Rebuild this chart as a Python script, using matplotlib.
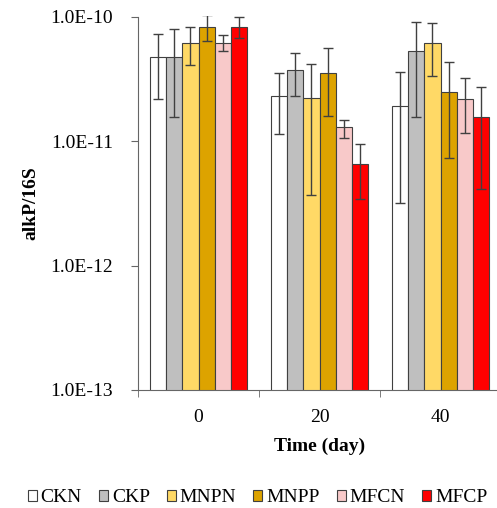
import matplotlib.pyplot as plt
import numpy as np
from matplotlib.patches import Patch
from matplotlib.ticker import FixedLocator, FuncFormatter

# --- Data ---
days = ['0', '20', '40']
groups = ['CKN', 'CKP', 'MNPN', 'MNPP', 'MFCN', 'MFCP']
colors = ['#FFFFFF', '#BFBFBF', '#FFD966', '#DDA300', '#F8C9C9', '#FF0000']

means = {
    'CKN':  [4.75e-11, 2.30e-11, 1.91e-11],
    'CKP':  [4.75e-11, 3.72e-11, 5.28e-11],
    'MNPN': [6.16e-11, 2.23e-11, 6.16e-11],
    'MNPP': [8.30e-11, 3.54e-11, 2.49e-11],
    'MFCN': [6.16e-11, 1.29e-11, 2.17e-11],
    'MFCP': [8.30e-11, 6.50e-12, 1.57e-11],
}
err_hi = {
    'CKN':  [7.30e-11, 3.50e-11, 3.56e-11],
    'CKP':  [7.90e-11, 5.10e-11, 9.10e-11],
    'MNPN': [8.30e-11, 4.13e-11, 8.80e-11],
    'MNPP': [1.03e-10, 5.55e-11, 4.34e-11],
    'MFCN': [7.06e-11, 1.47e-11, 3.19e-11],
    'MFCP': [1.00e-10, 9.46e-12, 2.70e-11],
}
err_lo = {
    'CKN':  [2.19e-11, 1.14e-11, 3.16e-12],
    'CKP':  [1.57e-11, 2.30e-11, 1.55e-11],
    'MNPN': [4.06e-11, 3.68e-12, 3.33e-11],
    'MNPP': [6.30e-11, 1.60e-11, 7.35e-12],
    'MFCN': [5.30e-11, 1.05e-11, 1.17e-11],
    'MFCP': [6.70e-11, 3.40e-12, 4.10e-12],
}

plt.rcParams['font.family'] = ['Liberation Serif', 'DejaVu Serif']

fig = plt.figure(figsize=(4.97, 5.08), dpi=100)
ax = fig.add_axes([138 / 497, 1 - 390 / 508, 363 / 497, (390 - 16.5) / 508])

x = np.arange(len(days))
width = 0.134
edge = '#404040'

for i, g in enumerate(groups):
    pos = x + (i - 2.5) * width
    m = np.array(means[g])
    lo = m - np.array(err_lo[g])
    hi = np.array(err_hi[g]) - m
    ax.bar(pos, m, width, color=colors[i], edgecolor=edge, linewidth=0.8,
           bottom=0, zorder=2)
    ax.errorbar(pos, m, yerr=[lo, hi], fmt='none', ecolor='#404040',
                elinewidth=1.0, capsize=3.5, capthick=1.0, zorder=3)

ax.set_yscale('log')
ax.set_ylim(1e-13, 1e-10)
ax.set_xlim(-0.5, 2.5)

ax.yaxis.set_major_locator(FixedLocator([1e-13, 1e-12, 1e-11, 1e-10]))
ax.yaxis.set_minor_locator(FixedLocator([]))
ax.yaxis.set_major_formatter(FuncFormatter(lambda v, p: '1.0E%d' % round(np.log10(v))))

ax.set_xticks(x)
ax.set_xticklabels(days)
ax.set_xticks([-0.5, 0.5, 1.5, 2.5], minor=True)
ax.tick_params(axis='x', which='major', length=0, pad=14, labelsize=14)
ax.tick_params(axis='x', which='minor', length=5, direction='out', color='#666666')
ax.tick_params(axis='y', which='major', length=5, direction='out', color='#666666', labelsize=14, pad=13)

for s in ['top', 'right']:
    ax.spines[s].set_visible(False)
ax.spines['left'].set_color('#666666')
ax.spines['bottom'].set_color('#666666')

ax.set_ylabel('alkP/16S', fontsize=14, fontweight='bold', labelpad=8)
ax.set_xlabel('Time (day)', fontsize=14, fontweight='bold', labelpad=8)

handles = [Patch(facecolor=c, edgecolor=edge, linewidth=0.8, label=g) for g, c in zip(groups, colors)]
fig.legend(handles=handles, loc='lower center', bbox_to_anchor=(0.518, -0.02), ncol=6,
           frameon=False, fontsize=14, handlelength=0.47, handleheight=0.47,
           handletextpad=0.2, columnspacing=0.87, borderaxespad=0.2)

plt.savefig('out.png', dpi=100)
